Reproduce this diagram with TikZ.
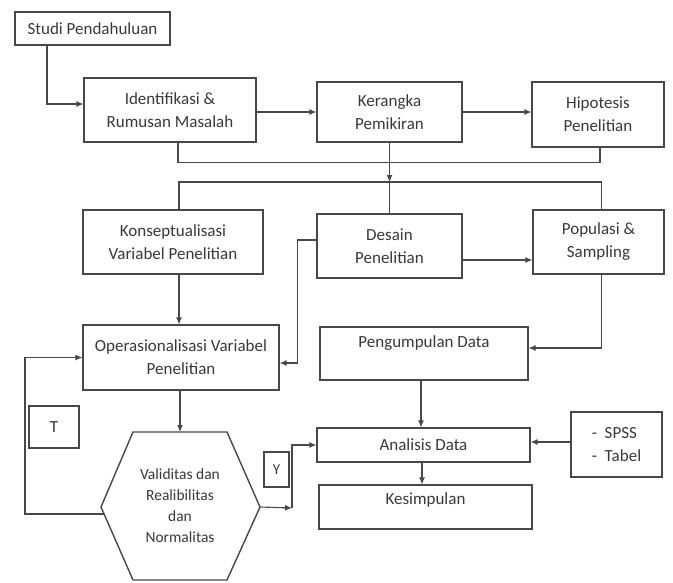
\documentclass[tikz,border=0pt]{standalone}
\usepackage{fontspec}
\setmainfont{Carlito}
\usetikzlibrary{arrows.meta}
\definecolor{linec}{HTML}{484848}
\definecolor{textc}{HTML}{383838}
\begin{document}
\begin{tikzpicture}[x=1pt,y=-1pt,
  box/.style={draw=linec, line width=1.1pt, align=center, inner sep=0pt,
    font=\fontsize{17}{23}\selectfont, text=textc},
  conn/.style={draw=linec, line width=1.1pt},
  arr/.style={conn,-{Latex[length=7pt,width=6pt]}}]
\useasboundingbox (0,0) rectangle (673,582);
% boxes
\node[box, minimum width=155pt, minimum height=33pt] (studi) at (92.5,28.5) {Studi Pendahuluan};
\node[box, minimum width=172pt, minimum height=64pt] (ident) at (170,110) {Identifikasi \&\\Rumusan Masalah};
\node[box, minimum width=145pt, minimum height=60pt] (keran) at (389.5,112) {Kerangka\\Pemikiran};
\node[box, minimum width=132pt, minimum height=65pt] (hipo) at (598,114.5) {Hipotesis\\Penelitian};
\node[box, minimum width=180pt, minimum height=64pt] (konsep) at (173,242) {Konseptualisasi\\Variabel Penelitian};
\node[box, minimum width=145pt, minimum height=64pt] (desain) at (389.5,246) {Desain\\Penelitian};
\node[box, minimum width=131pt, minimum height=64pt] (popul) at (598.5,242) {Populasi \&\\Sampling};
\node[box, minimum width=196pt, minimum height=65pt] (opera) at (181,357.5) {Operasionalisasi Variabel\\Penelitian};
\node[box, minimum width=208pt, minimum height=53pt] (pengum) at (424,353.5) {Pengumpulan Data\\\mbox{}};
\node[box, minimum width=213pt, minimum height=34pt] (analisis) at (423.5,445) {Analisis Data};
\node[box, minimum width=213pt, minimum height=44pt] (kesim) at (425.5,507) {Kesimpulan\\[-6pt]\mbox{}};
\node[box, minimum width=91pt, minimum height=65pt, align=left] (spss) at (616.5,444.5) {-\ \ SPSS\\-\ \ Tabel};
\node[box, minimum width=25pt, minimum height=35pt, font=\fontsize{15}{18}\selectfont] (ybox) at (276.5,469.5) {Y};
\node[box, minimum width=50pt, minimum height=42pt] (tbox) at (54,427) {T};
% hexagon
\coordinate (hexT) at (180,432);
\coordinate (hexL) at (101,507);
\coordinate (hexR) at (260,507);
\coordinate (hexLL) at (104,514);
\coordinate (yj) at (292,508);
\coordinate (hl) at (0,182);
\draw[conn, line width=1.4pt, line join=miter] (133,432) -- (227,432) -- (hexR) -- (227,580) -- (133,580) -- (hexL) -- cycle;
\node[align=center, inner sep=0pt, text=textc, font=\fontsize{15.5}{21}\selectfont] (hextext) at (180,506) {Validitas dan\\Realibilitas\\dan\\Normalitas};
% connectors
\draw[arr] ([xshift=-45.5pt]studi.south) |- ([yshift=6pt]ident.west);
\draw[arr] (ident.east |- keran.west) -- (keran.west);
\draw[arr] (keran.east) -- (keran.east -| hipo.west);
\draw[conn] ([xshift=8pt]ident.south) -- ++(0,20) -| ([xshift=2pt]hipo.south);
\draw[arr] (keran.south) -- (keran.south |- hl);
\draw[conn] (keran.south |- hl) -- (desain.north);
\draw[conn] ([xshift=6pt]konsep.north) -- ([xshift=6pt]konsep.north |- hl) -| ([xshift=3pt]popul.north);
\draw[arr] ([yshift=-14pt]desain.east) -- ([yshift=-14pt]desain.east -| popul.west);
\draw[arr] ([yshift=6pt]desain.west) -- ++(-19,0) |- ([yshift=-5.5pt]opera.east);
\draw[arr] ([xshift=6pt]konsep.south) -- ([xshift=6pt]konsep.south |- opera.north);
\draw[arr] ([xshift=3pt]popul.south) |- ([yshift=5.5pt]pengum.east);
\draw[arr] ([xshift=-3pt]pengum.south) -- ([xshift=-3pt]pengum.south |- analisis.north);
\draw[arr] ([xshift=-1.5pt]analisis.south) -- ([xshift=-1.5pt]analisis.south |- kesim.north);
\draw[arr] ([yshift=2.5pt]spss.west) -- ([yshift=2.5pt]spss.west -| analisis.east);
\draw[arr] ([xshift=-1pt]opera.south) -- (hexT);
\draw[arr] (hexR) -- (yj);
\draw[arr] (yj) |- (analisis.west);
\draw[arr] (hexLL) -- ++(-79,0) |- (opera.west);
\end{tikzpicture}
\end{document}
